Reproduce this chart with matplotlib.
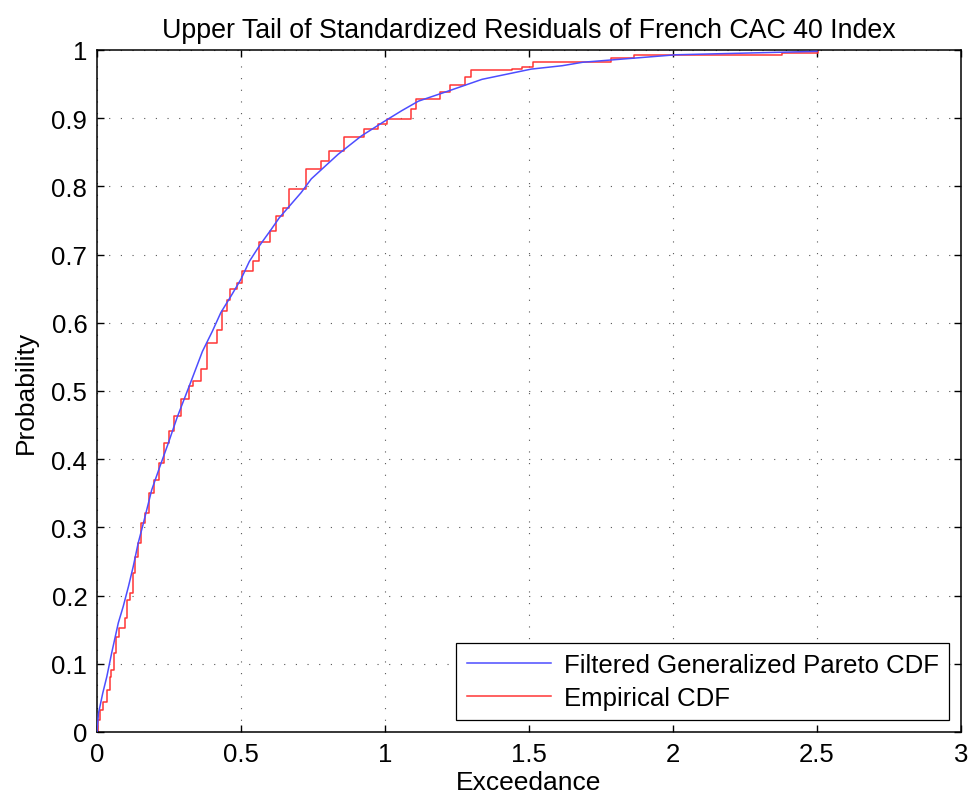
import matplotlib
matplotlib.use("Agg")
import matplotlib.pyplot as plt

plt.rcParams['font.family'] = ['Liberation Sans', 'DejaVu Sans']

# Filtered Generalized Pareto CDF
gp_x = [0.0, 0.005, 0.02, 0.034, 0.051, 0.074, 0.091, 0.109, 0.126, 0.143, 0.161,
        0.19, 0.219, 0.248, 0.278, 0.331, 0.366, 0.401, 0.43, 0.465, 0.5, 0.529,
        0.564, 0.605, 0.633, 0.709, 0.744, 0.837, 0.918, 1.0, 1.058, 1.116, 1.221,
        1.337, 1.508, 1.616, 1.686, 2.01, 2.5]
gp_y = [0.0, 0.027, 0.057, 0.081, 0.116, 0.160, 0.184, 0.213, 0.243, 0.277, 0.306,
        0.355, 0.39, 0.424, 0.461, 0.519, 0.558, 0.588, 0.615, 0.639, 0.664, 0.69,
        0.713, 0.737, 0.754, 0.791, 0.811, 0.847, 0.874, 0.896, 0.911, 0.925, 0.940,
        0.957, 0.972, 0.977, 0.982, 0.993, 0.998]

# Empirical CDF step points
ecdf_x = [0.0, 0.004, 0.011, 0.022, 0.033, 0.044, 0.050, 0.058, 0.065, 0.078, 0.097,
          0.104, 0.114, 0.125, 0.132, 0.142, 0.152, 0.165, 0.180, 0.198, 0.215, 0.232,
          0.250, 0.268, 0.290, 0.320, 0.335, 0.362, 0.382, 0.415, 0.433, 0.450, 0.462,
          0.485, 0.505, 0.540, 0.562, 0.600, 0.622, 0.645, 0.665, 0.725, 0.777, 0.805,
          0.858, 0.928, 0.975, 1.008, 1.090, 1.108, 1.190, 1.224, 1.277, 1.298, 1.440,
          1.475, 1.515, 1.785, 1.866, 2.377, 2.505]
ecdf_y = [0.0, 0.018, 0.032, 0.044, 0.062, 0.080, 0.091, 0.116, 0.140, 0.152, 0.167,
          0.194, 0.204, 0.233, 0.257, 0.277, 0.306, 0.321, 0.351, 0.370, 0.395, 0.424,
          0.441, 0.463, 0.488, 0.507, 0.514, 0.532, 0.571, 0.590, 0.617, 0.634, 0.649,
          0.659, 0.676, 0.691, 0.718, 0.735, 0.757, 0.769, 0.796, 0.825, 0.837, 0.852,
          0.872, 0.884, 0.891, 0.899, 0.913, 0.928, 0.938, 0.948, 0.960, 0.970, 0.972,
          0.975, 0.983, 0.988, 0.993, 0.996, 1.000]

x_ticks = [0, 0.5, 1, 1.5, 2, 2.5, 3]
x_tick_labels = ['0', '0.5', '1', '1.5', '2', '2.5', '3']
y_ticks = [0, 0.1, 0.2, 0.3, 0.4, 0.5, 0.6, 0.7, 0.8, 0.9, 1]
y_tick_labels = ['0', '0.1', '0.2', '0.3', '0.4', '0.5', '0.6', '0.7', '0.8', '0.9', '1']

fig = plt.figure(figsize=(9.75, 8.03), dpi=100)
ax = fig.add_axes([97/975, 1 - 733/803, (961-97)/975, (733-51)/803])

ax.plot(gp_x, gp_y, color='#4d4dff', lw=1.1, label='Filtered Generalized Pareto CDF', zorder=3)
ax.step(ecdf_x, ecdf_y, where='post', color='#ff3535', lw=1.1, label='Empirical CDF', zorder=2)

ax.set_xlim(0, 3)
ax.set_ylim(0, 1)
ax.set_xticks(x_ticks)
ax.set_xticklabels(x_tick_labels)
ax.set_yticks(y_ticks)
ax.set_yticklabels(y_tick_labels)

ax.grid(True, color='#555555', linestyle=(0, (1, 9.5)), lw=0.8)
ax.tick_params(direction='in', length=5, width=1, top=True, right=True,
               labelsize=18.5, pad=7)
for s in ax.spines.values():
    s.set_linewidth(1.1)

ax.set_title('Upper Tail of Standardized Residuals of French CAC 40 Index',
             fontsize=19.3, pad=9)
ax.set_xlabel('Exceedance', fontsize=19, labelpad=3)
ax.set_ylabel('Probability', fontsize=19, labelpad=10)

leg = ax.legend(loc='lower right', fontsize=18.5, fancybox=False, framealpha=1,
                edgecolor='black', handlelength=3.3, borderaxespad=0.45,
                handletextpad=0.5, borderpad=0.4, labelspacing=0.35,
                handleheight=0.7)
leg.get_frame().set_linewidth(0.9)

fig.savefig('out.png', dpi=100)
